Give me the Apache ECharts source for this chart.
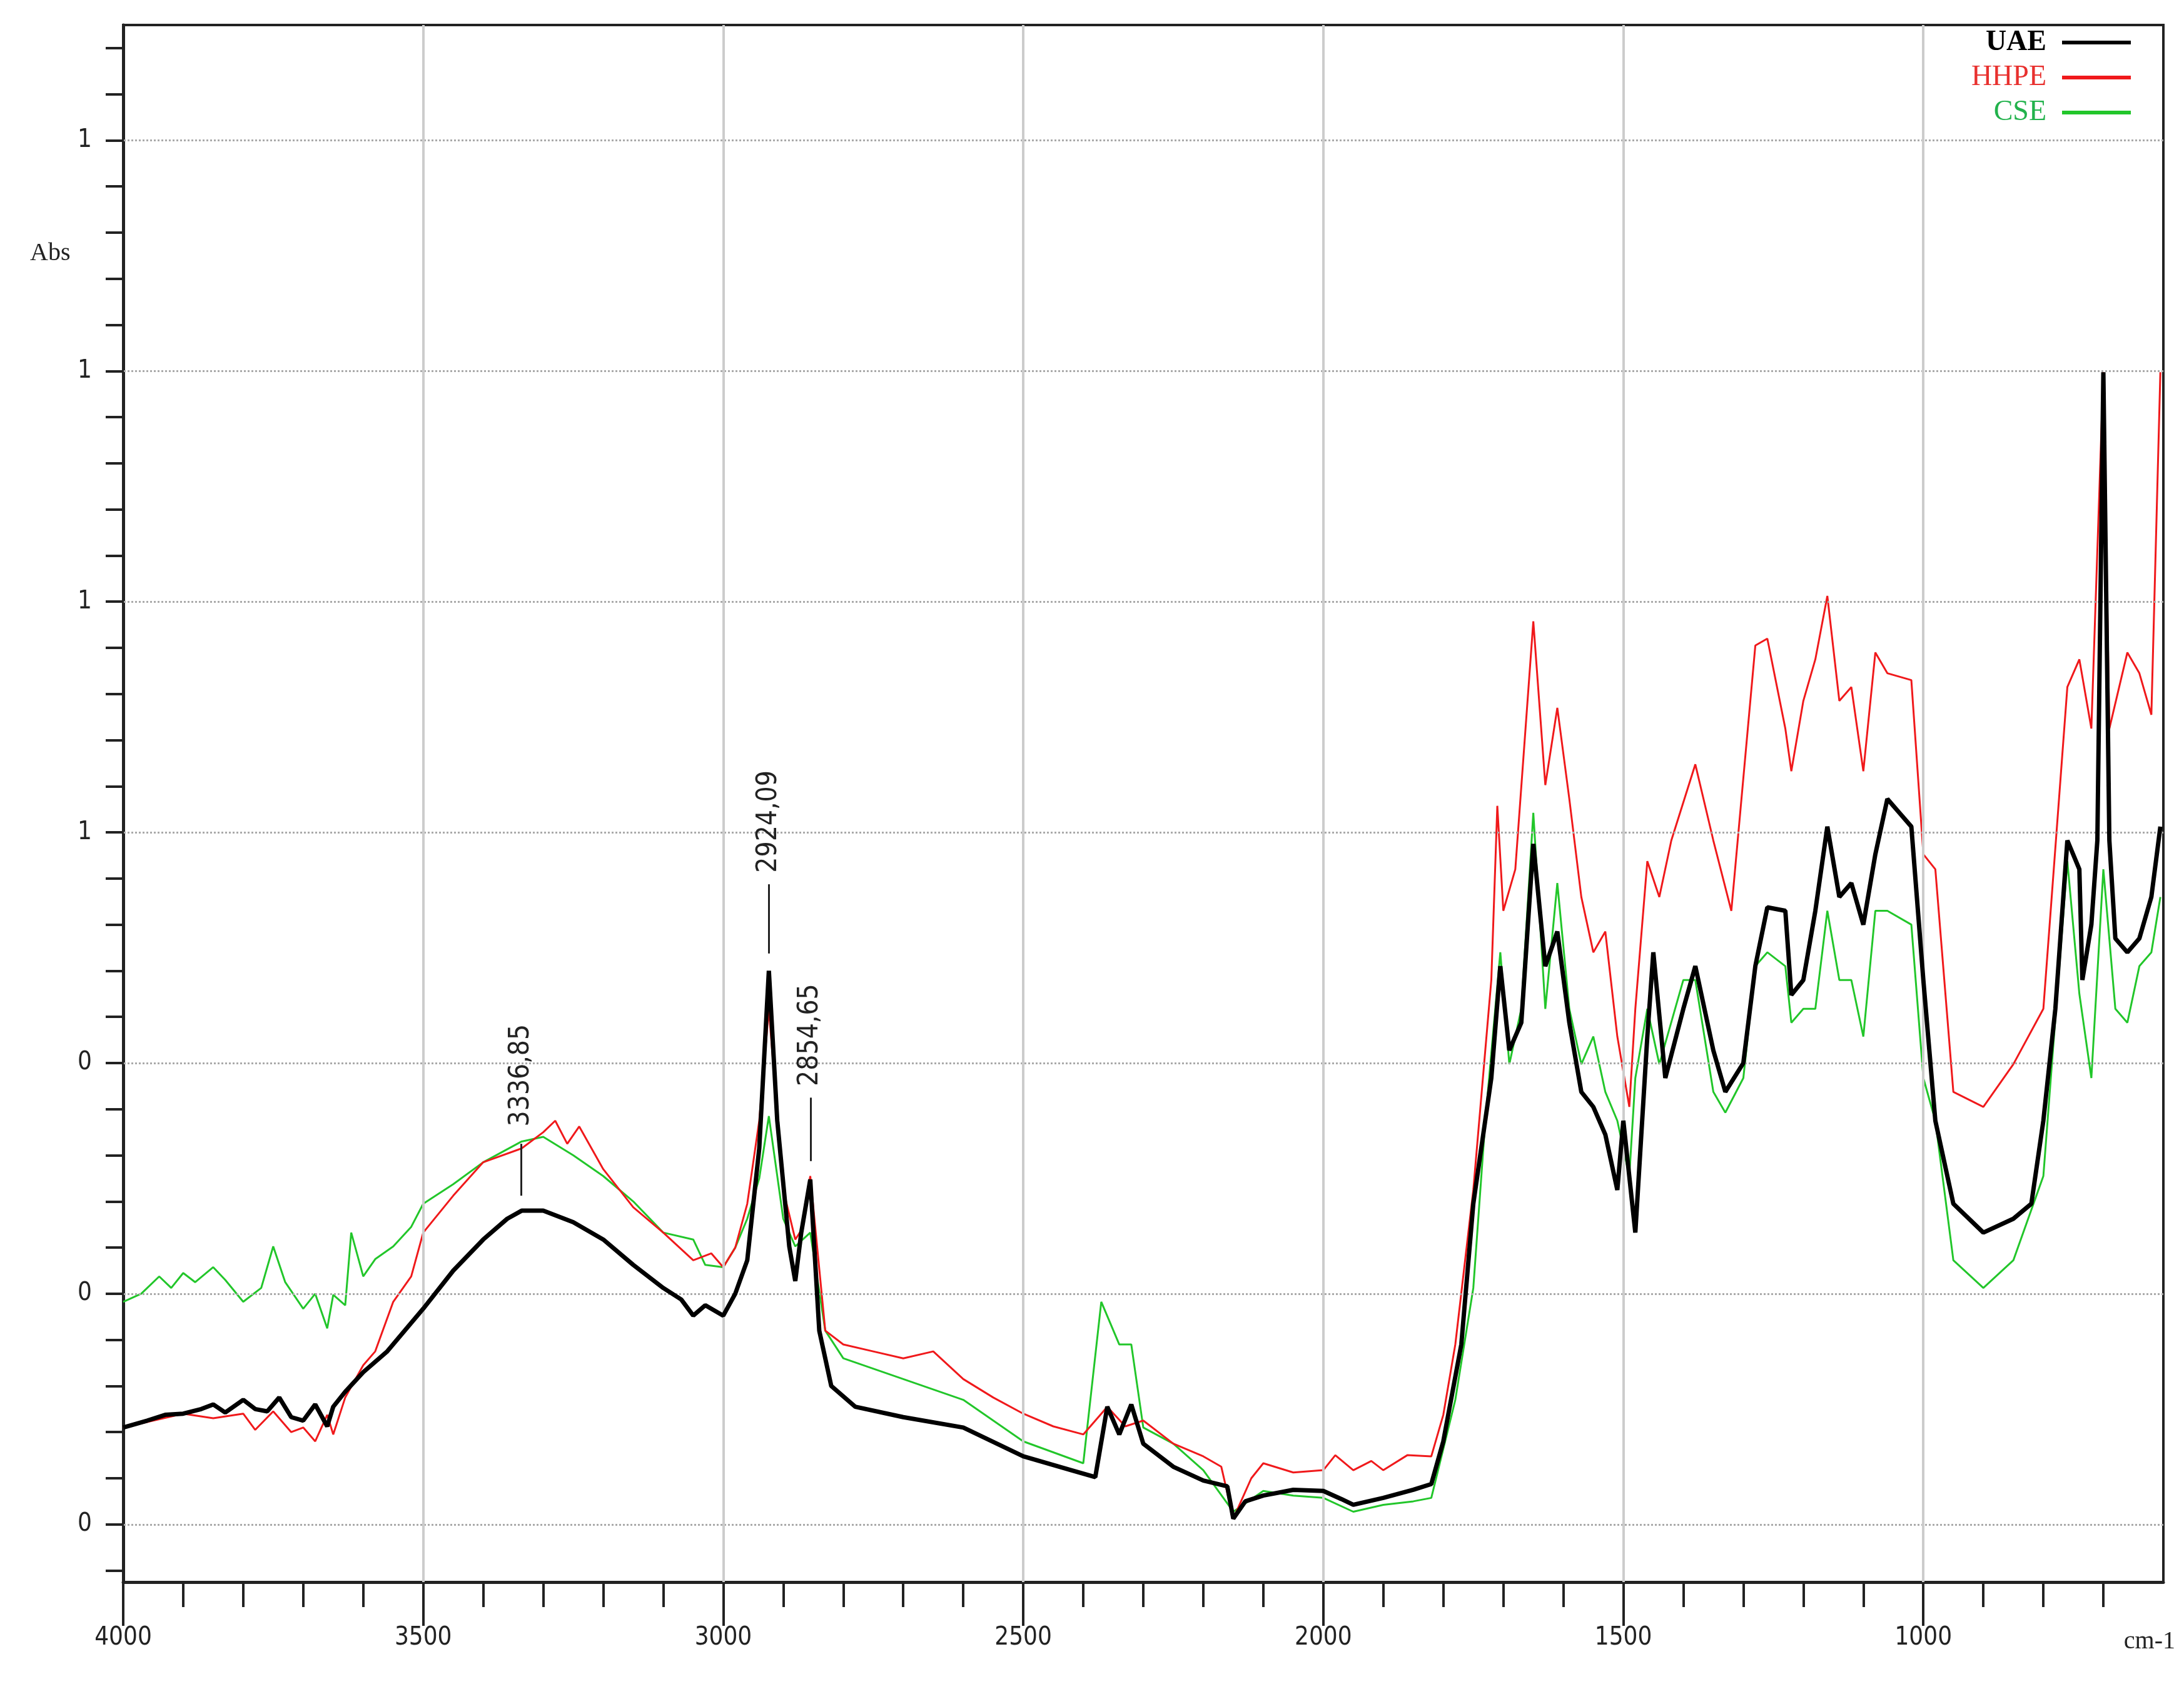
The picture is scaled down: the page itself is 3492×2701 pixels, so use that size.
<!DOCTYPE html>
<html>
<head>
<meta charset="utf-8">
<script src="https://cdn.jsdelivr.net/npm/echarts@6/dist/echarts.min.js"></script>
<style>html,body{margin:0;padding:0;background:#fff}#chart{width:3492px;height:2701px}</style>
</head>
<body>
<div id="chart"></div>
<script>
// FTIR spectra, wavenumber (cm-1) vs absorbance
var uaeData = [[4000,0.084],[3960,0.090],[3930,0.095],[3900,0.096],[3870,0.100],[3850,0.104],[3830,0.097],[3800,0.108],[3780,0.100],[3760,0.098],[3740,0.110],[3720,0.093],[3700,0.090],[3680,0.104],[3660,0.085],[3650,0.102],[3630,0.115],[3600,0.132],[3560,0.150],[3500,0.187],[3450,0.220],[3400,0.247],[3360,0.265],[3336,0.272],[3300,0.272],[3250,0.262],[3200,0.247],[3150,0.225],[3100,0.205],[3070,0.195],[3050,0.181],[3030,0.190],[3000,0.181],[2980,0.200],[2960,0.229],[2940,0.326],[2924,0.480],[2910,0.350],[2890,0.241],[2880,0.211],[2870,0.253],[2855,0.299],[2840,0.168],[2820,0.120],[2780,0.102],[2700,0.093],[2600,0.084],[2500,0.059],[2420,0.047],[2380,0.041],[2360,0.102],[2340,0.078],[2320,0.104],[2300,0.070],[2250,0.050],[2200,0.038],[2160,0.033],[2150,0.005],[2130,0.020],[2100,0.025],[2050,0.030],[2000,0.029],[1970,0.022],[1950,0.017],[1900,0.023],[1850,0.030],[1820,0.035],[1800,0.072],[1770,0.156],[1750,0.278],[1720,0.387],[1705,0.484],[1690,0.411],[1670,0.435],[1650,0.590],[1630,0.484],[1610,0.514],[1590,0.435],[1570,0.375],[1550,0.362],[1530,0.338],[1510,0.290],[1500,0.350],[1480,0.253],[1460,0.423],[1450,0.496],[1430,0.387],[1400,0.447],[1380,0.484],[1350,0.411],[1330,0.375],[1300,0.400],[1280,0.484],[1260,0.535],[1230,0.532],[1220,0.459],[1200,0.472],[1180,0.532],[1160,0.605],[1140,0.544],[1120,0.556],[1100,0.520],[1080,0.581],[1060,0.629],[1040,0.617],[1020,0.605],[1000,0.472],[980,0.350],[950,0.278],[900,0.253],[850,0.265],[820,0.278],[800,0.350],[780,0.447],[760,0.593],[740,0.568],[735,0.472],[720,0.520],[710,0.593],[700,0.999],[690,0.593],[680,0.508],[660,0.496],[640,0.508],[620,0.544],[605,0.605]];

var hhpeData = [[4000,0.084],[3950,0.090],[3900,0.096],[3850,0.092],[3800,0.096],[3780,0.082],[3750,0.098],[3720,0.080],[3700,0.084],[3680,0.072],[3660,0.095],[3650,0.078],[3630,0.110],[3600,0.138],[3580,0.150],[3550,0.193],[3520,0.215],[3500,0.253],[3450,0.285],[3400,0.314],[3336,0.326],[3300,0.340],[3280,0.350],[3260,0.330],[3240,0.345],[3200,0.308],[3150,0.275],[3100,0.253],[3050,0.229],[3020,0.235],[3000,0.223],[2980,0.240],[2960,0.278],[2940,0.350],[2924,0.447],[2900,0.290],[2880,0.247],[2870,0.255],[2855,0.302],[2830,0.168],[2800,0.156],[2750,0.150],[2700,0.144],[2650,0.150],[2600,0.126],[2550,0.110],[2500,0.096],[2450,0.085],[2400,0.078],[2360,0.102],[2330,0.085],[2300,0.090],[2250,0.070],[2200,0.059],[2170,0.050],[2150,0.005],[2120,0.040],[2100,0.053],[2050,0.045],[2000,0.047],[1980,0.060],[1950,0.047],[1920,0.055],[1900,0.047],[1860,0.060],[1820,0.059],[1800,0.095],[1780,0.156],[1750,0.290],[1720,0.472],[1710,0.623],[1700,0.532],[1680,0.568],[1650,0.783],[1630,0.641],[1610,0.708],[1590,0.629],[1570,0.544],[1550,0.496],[1530,0.514],[1510,0.423],[1490,0.362],[1480,0.447],[1460,0.575],[1440,0.544],[1420,0.593],[1380,0.659],[1350,0.593],[1320,0.532],[1280,0.762],[1260,0.768],[1230,0.690],[1220,0.653],[1200,0.714],[1180,0.750],[1160,0.805],[1140,0.714],[1120,0.726],[1100,0.653],[1080,0.756],[1060,0.738],[1020,0.732],[1000,0.581],[980,0.568],[950,0.375],[900,0.362],[850,0.399],[800,0.447],[760,0.726],[740,0.750],[720,0.690],[700,0.999],[690,0.690],[660,0.756],[640,0.738],[620,0.702],[605,0.999]];

var cseData = [[4000,0.193],[3970,0.200],[3940,0.215],[3920,0.205],[3900,0.218],[3880,0.210],[3850,0.223],[3830,0.212],[3800,0.193],[3770,0.205],[3750,0.241],[3730,0.210],[3700,0.187],[3680,0.200],[3660,0.170],[3650,0.199],[3630,0.190],[3620,0.253],[3600,0.215],[3580,0.230],[3550,0.241],[3520,0.258],[3500,0.278],[3450,0.295],[3400,0.314],[3336,0.332],[3300,0.336],[3250,0.320],[3200,0.302],[3150,0.280],[3100,0.253],[3050,0.247],[3030,0.225],[3000,0.223],[2980,0.240],[2960,0.265],[2940,0.300],[2924,0.354],[2900,0.265],[2880,0.241],[2855,0.253],[2830,0.168],[2800,0.144],[2700,0.126],[2600,0.108],[2500,0.072],[2400,0.053],[2370,0.193],[2340,0.156],[2320,0.156],[2300,0.084],[2250,0.070],[2200,0.047],[2150,0.011],[2100,0.029],[2050,0.025],[2000,0.023],[1950,0.011],[1900,0.017],[1850,0.020],[1820,0.023],[1780,0.108],[1750,0.205],[1730,0.350],[1705,0.496],[1690,0.399],[1670,0.447],[1650,0.617],[1630,0.447],[1610,0.556],[1590,0.447],[1570,0.399],[1550,0.423],[1530,0.375],[1510,0.350],[1490,0.302],[1480,0.387],[1460,0.447],[1440,0.399],[1400,0.472],[1380,0.472],[1350,0.375],[1330,0.357],[1300,0.387],[1280,0.484],[1260,0.496],[1230,0.484],[1220,0.435],[1200,0.447],[1180,0.447],[1160,0.532],[1140,0.472],[1120,0.472],[1100,0.423],[1080,0.532],[1060,0.532],[1020,0.520],[1000,0.387],[980,0.350],[950,0.229],[900,0.205],[850,0.229],[800,0.302],[760,0.575],[740,0.460],[720,0.387],[700,0.568],[680,0.447],[660,0.435],[640,0.484],[620,0.496],[605,0.544]];

var peakLabels = [
  { name: '3336,85', x: 3336.85, y0: 0.285, y1: 0.330, ty: 0.345 },
  { name: '2924,09', x: 2924.09, y0: 0.495, y1: 0.555, ty: 0.565 },
  { name: '2854,65', x: 2854.65, y0: 0.315, y1: 0.370, ty: 0.380 }
];

var yLabelValues = [0, 0.2, 0.4, 0.6, 0.8, 1.0, 1.2];
var xLabelValues = [4000, 3500, 3000, 2500, 2000, 1500, 1000];

var font = 'DejaVu Sans Condensed, Liberation Sans Narrow, sans-serif';
var yTicks = [];
for (var t = -0.04; t <= 1.29; t += 0.04) yTicks.push(+t.toFixed(2));
var xTicks = [];
for (var w = 700; w <= 4000; w += 100) xTicks.push(w);

var gridLines = [];
yLabelValues.forEach(function (v) { gridLines.push({ yAxis: v, lineStyle: { type: [3, 3], color: '#aaa', width: 3 } }); });
[3500, 3000, 2500, 2000, 1500, 1000].forEach(function (v) { gridLines.push({ xAxis: v, lineStyle: { type: 'solid', color: '#ccc', width: 4 } }); });

var labelLines = [], labelPoints = [];
peakLabels.forEach(function (p) {
  labelLines.push([{ coord: [p.x, p.y0] }, { coord: [p.x, p.y1] }]);
  labelPoints.push({ coord: [p.x, p.ty], value: p.name });
});

var chart = echarts.init(document.getElementById('chart'));
chart.setOption({
  backgroundColor: '#fff',
  animation: false,
  grid: { left: 197, right: 33, top: 40, bottom: 171, show: true, borderColor: '#222', borderWidth: 4 },
  legend: {
    right: 80, top: 40, orient: 'vertical', align: 'right', itemWidth: 110, itemHeight: 6, itemGap: 10,
    icon: 'rect',
    textStyle: { fontFamily: 'Liberation Serif, serif', fontSize: 46, padding: [0, 20, 0, 0] },
    data: [
      { name: 'UAE', textStyle: { color: '#000', fontWeight: 'bold' } },
      { name: 'HHPE', textStyle: { color: '#e8302e' } },
      { name: 'CSE', textStyle: { color: '#22b24c' } }
    ]
  },
  xAxis: [{
    type: 'value', inverse: true, min: 600, max: 4000,
    axisLine: { onZero: false, lineStyle: { color: '#222', width: 5 } },
    axisTick: { customValues: xTicks, length: 40, lineStyle: { color: '#222', width: 4 } },
    axisLabel: { customValues: xLabelValues, margin: 70, fontSize: 40, color: '#222', fontFamily: font,
      formatter: function (v) { return String(v); } },
    splitLine: { show: false }
  }, {
    type: 'value', inverse: true, min: 600, max: 4000, position: 'bottom',
    axisLine: { show: false, onZero: false },
    axisTick: { customValues: xLabelValues, length: 70, lineStyle: { color: '#222', width: 4 } },
    axisLabel: { show: false }, splitLine: { show: false }
  }],
  yAxis: {
    type: 'value', min: -0.05, max: 1.3,
    axisLine: { show: true, onZero: false, lineStyle: { color: '#222', width: 5 } },
    axisTick: { customValues: yTicks, length: 28, lineStyle: { color: '#222', width: 4 } },
    axisLabel: { customValues: yLabelValues, margin: 50, fontSize: 40, color: '#222', fontFamily: font,
      formatter: function (v) { return String(Math.round(v)); } },
    splitLine: { show: false }
  },
  graphic: [
    { type: 'text', left: 48, top: 385, style: { text: 'Abs', fontSize: 40, fontFamily: 'Liberation Serif, serif', fill: '#222' } },
    { type: 'text', right: 14, top: 2605, style: { text: 'cm-1', fontSize: 40, fontFamily: 'Liberation Serif, serif', fill: '#222' } }
  ],
  series: [
    { name: 'grid', type: 'line', data: [], silent: true,
      markLine: { symbol: 'none', silent: true, label: { show: false }, data: gridLines } },
    { name: 'CSE', type: 'line', data: cseData, showSymbol: false, z: 3,
      lineStyle: { color: '#22c62a', width: 3 }, itemStyle: { color: '#22c62a' } },
    { name: 'HHPE', type: 'line', data: hhpeData, showSymbol: false, z: 4,
      lineStyle: { color: '#f0191b', width: 3 }, itemStyle: { color: '#f0191b' } },
    { name: 'UAE', type: 'line', data: uaeData, showSymbol: false, z: 5,
      lineStyle: { color: '#000', width: 7 }, itemStyle: { color: '#000' },
      markLine: { symbol: 'none', silent: true, label: { show: false },
        lineStyle: { color: '#222', width: 3, type: 'solid' }, data: labelLines },
      markPoint: { symbol: 'circle', symbolSize: 0, silent: true, data: labelPoints,
        label: { show: true, formatter: '{c}', rotate: 90, align: 'left', verticalAlign: 'middle',
          fontSize: 44, color: '#222', fontFamily: font } } }
  ]
});
</script>
</body>
</html>
